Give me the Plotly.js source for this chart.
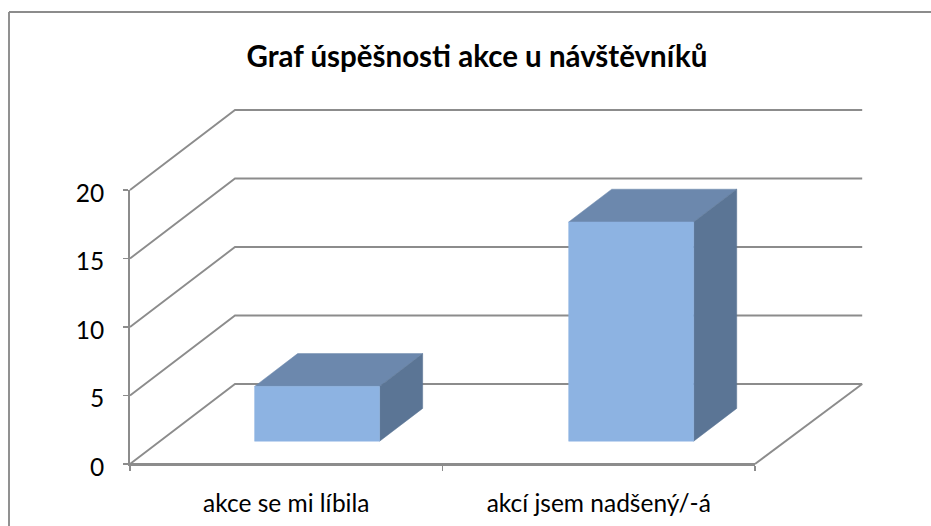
<!DOCTYPE html>
<html>
<head>
<meta charset="utf-8">
<script src="https://cdn.plot.ly/plotly-3.0.1.min.js"></script>
<style>html,body{margin:0;padding:0;background:#fff}#c{width:931px;height:526px}</style>
</head>
<body>
<div id="c"></div>
<script>
const chartTitle = "Graf úspěšnosti akce u návštěvníků";
const categories = ["akce se mi líbila", "akcí jsem nadšený/-á"];
const values = [4, 16];
const yTicks = [0, 5, 10, 15, 20];

// page geometry of the front plane
const W = 931, H = 526;
const frontL = 130, frontR = 755, frontB = 464, frontT = 190;
const pxPerX = (frontR - frontL) / 2, pxPerY = (frontB - frontT) / 20;

// oblique projection of the depth axis, in axis units
const depthX = 105 / pxPerX, depthY = 80 / pxPerY;
const backEnd = 2.007;
const barHalf = 0.2, barD0 = 0.285, barD1 = 0.695;
const barOffset = [0.503, 0.508];
const gridColor = "#8c8c8c";
const lineW = 1.9;
const FONT = "Lato, 'Open Sans', sans-serif";

function P(pts) {
  return {
    x: pts.map(p => p[0] + p[2] * depthX),
    y: pts.map(p => p[1] + p[2] * depthY)
  };
}
function line(pts) {
  return Object.assign(P(pts), {
    type: "scatter", mode: "lines", xaxis: "x2", yaxis: "y2", hoverinfo: "skip",
    line: {color: gridColor, width: lineW}
  });
}
function face(pts, color) {
  const closed = pts.concat([pts[0]]);
  return Object.assign(P(closed), {
    type: "scatter", mode: "lines", fill: "toself", fillcolor: color,
    xaxis: "x2", yaxis: "y2", hoverinfo: "skip", line: {color: color, width: 0.5}
  });
}

const traces = [];
// front-plane trace that carries the real axes
traces.push({type: "scatter", mode: "lines", x: [0, 2], y: [0, 0], hoverinfo: "skip", line: {color: gridColor, width: lineW}});
yTicks.forEach(v => {
  traces.push(line([[0, v, 0], [0, v, 1], [backEnd, v, 1]]));
});
traces.push(line([[2, 0, 0], [backEnd, 0, 1]]));

values.forEach((v, i) => {
  const c = i + barOffset[i];
  const xl = c - barHalf, xr = c + barHalf;
  traces.push(face([[xl, v, barD0], [xr, v, barD0], [xr, v, barD1], [xl, v, barD1]], "#6c88ad"));
  traces.push(face([[xr, 0, barD0], [xr, 0, barD1], [xr, v, barD1], [xr, v, barD0]], "#5b7595"));
  traces.push(face([[xl, 0, barD0], [xr, 0, barD0], [xr, v, barD0], [xl, v, barD0]], "#8db3e2"));
});

const layout = {
  width: W, height: H,
  margin: {l: 0, r: 0, t: 0, b: 0},
  paper_bgcolor: "#fff", plot_bgcolor: "rgba(0,0,0,0)",
  showlegend: false, hovermode: false,
  title: {
    text: "<b>" + chartTitle + "</b>",
    x: 477 / W, xanchor: "center", y: 1 - 57 / H, yanchor: "middle",
    font: {family: FONT, size: 29.5, color: "#000"}
  },
  xaxis: {
    domain: [frontL / W, frontR / W], range: [0, 2], anchor: "y",
    tickmode: "array", tickvals: [0.5, 1.5], ticktext: categories,
    ticks: "", ticklen: 0, ticklabelstandoff: 17, showgrid: false, zeroline: false,
    showline: true, linecolor: gridColor, linewidth: lineW,
    tickfont: {family: FONT, size: 24.5, color: "#000"},
    minor: {tickmode: "array", tickvals: [0, 1, 2], ticks: "outside", ticklen: 5, tickwidth: lineW, tickcolor: gridColor, showgrid: false}
  },
  yaxis: {
    domain: [(H - frontB) / H, (H - frontT) / H], range: [0, 20], anchor: "x",
    tickmode: "array", tickvals: yTicks,
    ticks: "outside", ticklen: 5, tickwidth: lineW, tickcolor: gridColor,
    ticklabelstandoff: 14, ticklabelshift: 3,
    showgrid: false, zeroline: false,
    showline: true, linecolor: gridColor, linewidth: lineW,
    tickfont: {family: FONT, size: 24.5, color: "#000"}
  },
  xaxis2: {
    domain: [0, 1], anchor: "y2", visible: false,
    range: [-frontL / pxPerX, (W - frontL) / pxPerX]
  },
  yaxis2: {
    domain: [0, 1], anchor: "x2", visible: false,
    range: [-(H - frontB) / pxPerY, frontB / pxPerY]
  },
  shapes: [
    {type: "line", xref: "paper", yref: "paper", x0: 9 / W, x1: 1, y0: 1 - 12 / H, y1: 1 - 12 / H, line: {color: gridColor, width: lineW}},
    {type: "line", xref: "paper", yref: "paper", x0: 9 / W, x1: 9 / W, y0: 0, y1: 1 - 12 / H, line: {color: gridColor, width: lineW}}
  ]
};
Plotly.newPlot("c", traces, layout, {displayModeBar: false, staticPlot: true});
</script>
</body>
</html>
